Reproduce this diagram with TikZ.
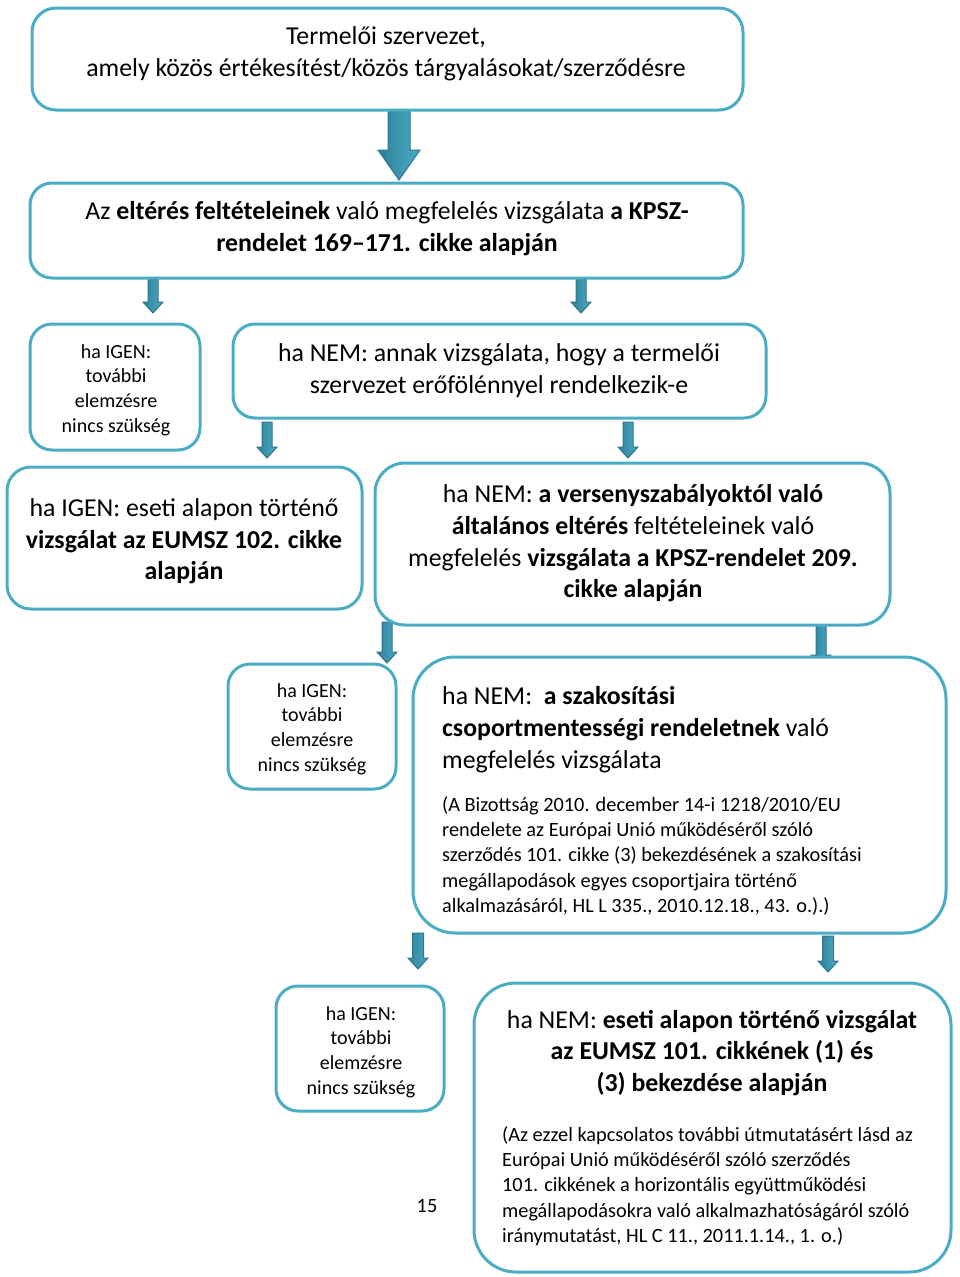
\documentclass[tikz,border=0pt]{standalone}
\usepackage{fontspec}
\setmainfont{Carlito}
\definecolor{boxc}{HTML}{4BACC6}
\definecolor{arrL}{HTML}{4BACC6}
\definecolor{arrD}{HTML}{2F7F98}
\definecolor{arrO}{HTML}{31748C}
\newcommand\blockarr[6]{% x, ytop, ytip, shaft half, head half, head length
  \pgfmathsetmacro\bxa{#1-#4}\pgfmathsetmacro\bxb{#1+#4}%
  \pgfmathsetmacro\bxc{#1-#5}\pgfmathsetmacro\bxd{#1+#5}%
  \pgfmathsetmacro\byh{#3-#6}%
  \draw[arrst] (\bxa,#2) -- (\bxa,\byh) -- (\bxc,\byh) -- (#1,#3) -- (\bxd,\byh) -- (\bxb,\byh) -- (\bxb,#2) -- cycle;}
\tikzset{
  box/.style={draw=boxc, line width=3pt, fill=white, inner sep=0pt},
  txt/.style={inner sep=0pt, align=center, text=black},
  ltxt/.style={inner sep=0pt, align=left, text=black, anchor=north west},
  arrst/.style={draw=arrO, line width=1pt, left color=arrD, right color=arrL, line join=miter},
  big/.style={font=\fontsize{25.8}{31.6}\selectfont},
  small/.style={font=\fontsize{20}{24.6}\selectfont},
  cite/.style={font=\fontsize{20.3}{25.2}\selectfont},
}
\begin{document}
\begin{tikzpicture}[x=1pt,y=-1pt]
\useasboundingbox[fill=white] (0,0) rectangle (960,1277);
% arrows (drawn first, boxes cover ends)
\blockarr{399}{108}{180}{11}{21}{30}
\blockarr{153}{279}{313}{5}{10}{11}
\blockarr{581}{279}{313}{5}{10}{11}
\blockarr{267}{422}{458}{5}{10}{11}
\blockarr{628}{422}{458}{5}{10}{11}
\blockarr{387}{622}{663}{5}{10}{11}
\blockarr{821}{622}{666}{5}{10}{11}
\blockarr{418}{933}{969}{5.5}{10}{11}
\blockarr{828}{936}{972}{5.5}{10}{11}
% boxes
\node[box, rounded corners=24pt, minimum width=711pt, minimum height=102pt] (b1) at (387.5,59) {};
\node[box, rounded corners=22pt, minimum width=713pt, minimum height=95pt] (b2) at (386.5,230.5) {};
\node[box, rounded corners=22pt, minimum width=170pt, minimum height=126pt] (b3a) at (115,387) {};
\node[box, rounded corners=22pt, minimum width=533pt, minimum height=94pt] (b3b) at (499.5,371) {};
\node[box, rounded corners=24pt, minimum width=355pt, minimum height=142pt] (b4a) at (184.5,538) {};
\node[box, rounded corners=30pt, minimum width=515pt, minimum height=162pt] (b4b) at (632.5,544) {};
\node[box, rounded corners=22pt, minimum width=168pt, minimum height=125pt] (b5a) at (312,726.5) {};
\node[box, rounded corners=42pt, minimum width=533pt, minimum height=276pt] (b5b) at (679.5,795) {};
\node[box, rounded corners=22pt, minimum width=168pt, minimum height=125pt] (b6a) at (360,1048.5) {};
\node[box, rounded corners=42pt, minimum width=477pt, minimum height=289pt] (b6b) at (712.5,1127.5) {};
% texts
\node[txt, big] (t1) at (386,53.5) {Termelői szervezet,\\amely közös értékesítést/közös tárgyalásokat/szerződésre};
\node[txt, big] (t2) at (387,228.5) {Az \textbf{eltérés feltételeinek} való megfelelés vizsgálata \textbf{a KPSZ-}\\\textbf{rendelet 169–171. cikke alapján}};
\node[txt, small] (t3a) at (116,390) {ha IGEN:\\további\\elemzésre\\nincs szükség};
\node[txt, big] (t3b) at (499,370.5) {ha NEM: annak vizsgálata, hogy a termelői\\szervezet erőfölénnyel rendelkezik-e};
\node[txt, big] (t4a) at (184,541.5) {ha IGEN: eseti alapon történő\\\textbf{vizsgálat az EUMSZ 102. cikke}\\\textbf{alapján}};
\node[txt, big] (t4b) at (633,543.5) {ha NEM: \textbf{a versenyszabályoktól való}\\\textbf{általános eltérés} feltételeinek való\\megfelelés \textbf{vizsgálata a KPSZ-rendelet 209.}\\\textbf{cikke alapján}};
\node[txt, small] (t5a) at (312,729) {ha IGEN:\\további\\elemzésre\\nincs szükség};
\node[ltxt, big] (t5b) at (442,686.5) {ha NEM:\ \ \textbf{a szakosítási}\\\textbf{csoportmentességi rendeletnek} való\\megfelelés vizsgálata};
\node[ltxt, cite] (t5c) at (442,796.5) {(A Bizottság 2010. december 14-i 1218/2010/EU\\rendelete az Európai Unió működéséről szóló\\szerződés 101. cikke (3) bekezdésének a szakosítási\\megállapodások egyes csoportjaira történő\\alkalmazásáról, HL L 335., 2010.12.18., 43. o.).)};
\node[txt, small] (t6a) at (361,1052) {ha IGEN:\\további\\elemzésre\\nincs szükség};
\node[txt, big] (t6b) at (712,1053) {ha NEM: \textbf{eseti alapon történő vizsgálat}\\\textbf{az EUMSZ 101. cikkének (1) és}\\\textbf{(3) bekezdése alapján}};
\node[ltxt, cite] (t6c) at (502,1126.5) {(Az ezzel kapcsolatos további útmutatásért lásd az\\Európai Unió működéséről szóló szerződés\\101. cikkének a horizontális együttműködési\\megállapodásokra való alkalmazhatóságáról szóló\\iránymutatást, HL C 11., 2011.1.14., 1. o.)};
\node[txt, cite] (pg) at (427,1206) {15};
\end{tikzpicture}
\end{document}
